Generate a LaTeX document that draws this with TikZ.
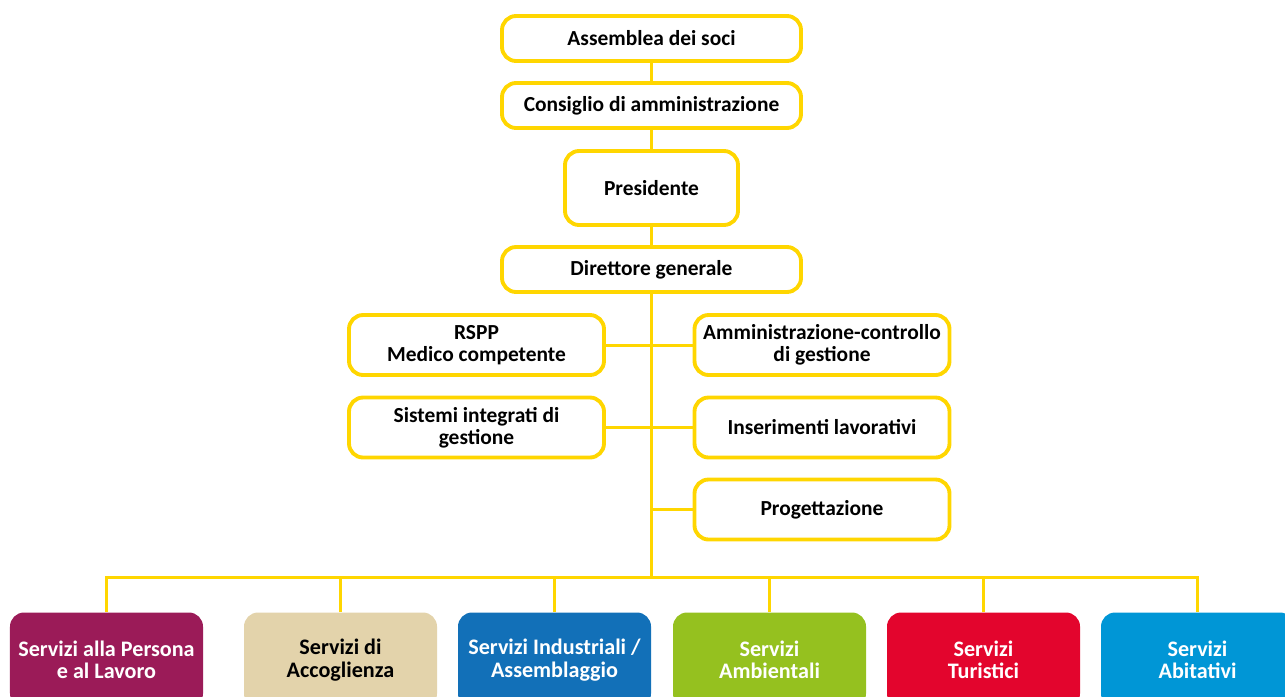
\documentclass[tikz,border=0pt]{standalone}
\usepackage{fontspec}
\setmainfont{Carlito}
\begin{document}
\begin{tikzpicture}[x=0.2mm,y=-0.2mm,
  box/.style={draw=giallo,line width=2.2pt,rounded corners=8pt,fill=white,align=center,
    inner sep=0pt,font=\bfseries\fontsize{12.2}{12.3}\selectfont},
  wide/.style={box,minimum width=5.98cm,minimum height=0.9cm},
  side/.style={box,minimum width=5.1cm,minimum height=1.2cm},
  area/.style={rounded corners=8pt,align=center,inner sep=0pt,text=white,
    minimum width=3.86cm,minimum height=1.9cm,font=\bfseries\fontsize{12.6}{12.8}\selectfont},
  line/.style={giallo,line width=1.7pt}]

\definecolor{giallo}{RGB}{255,214,0}
\definecolor{viola}{RGB}{155,27,88}
\definecolor{sabbia}{RGB}{227,211,171}
\definecolor{blu}{RGB}{18,112,184}
\definecolor{verde}{RGB}{149,193,31}
\definecolor{rosso}{RGB}{227,5,45}
\definecolor{azzurro}{RGB}{0,150,214}

\useasboundingbox (0,0) rectangle (1285,696);

\coordinate (bus) at (651.5,577);

% vertical chain
\node[wide] (soci) at (651.5,38.5) {Assemblea dei soci};
\node[wide] (cda) at (651.5,105.5) {Consiglio di amministrazione};
\node[box,minimum width=3.46cm,minimum height=1.48cm] (pres) at (651.5,188) {Presidente};
\node[wide] (dg) at (651.5,269.5) {Direttore generale};

% staff
\node[side] (rspp) at (476.5,345) {RSPP\\Medico competente};
\node[side] (amm) at (822,345) {Amministrazione-controllo\\di gestione};
\node[side] (sig) at (476.5,427.5) {Sistemi integrati di\\gestione};
\node[side] (ins) at (822,427.5) {Inserimenti lavorativi};
\node[side] (prog) at (822,509.5) {Progettazione};

% business areas
\node[area,fill=viola] (s1) at (106.5,660) {Servizi alla Persona\\e al Lavoro};
\node[area,fill=sabbia,text=black] (s2) at (340.5,660) {Servizi di\\Accoglienza};
\node[area,fill=blu] (s3) at (554.5,660) {Servizi Industriali /\\Assemblaggio};
\node[area,fill=verde] (s4) at (769.5,660) {Servizi\\Ambientali};
\node[area,fill=rosso] (s5) at (983.5,660) {Servizi\\Turistici};
\node[area,fill=azzurro] (s6) at (1197.5,660) {Servizi\\Abitativi};

\draw[line] (soci) -- (cda);
\draw[line] (cda) -- (pres);
\draw[line] (pres) -- (dg);
\draw[line] (dg) -- (bus);
\draw[line] (rspp) -- (amm);
\draw[line] (sig) -- (ins);
\draw[line] (prog.west) -- (prog.west -| bus);

\draw[line] (s1.north) |- (bus) -| (s6.north);
\foreach \i in {2,...,5}
  \draw[line] (s\i.north) -- (s\i.north |- bus);

\end{tikzpicture}
\end{document}
